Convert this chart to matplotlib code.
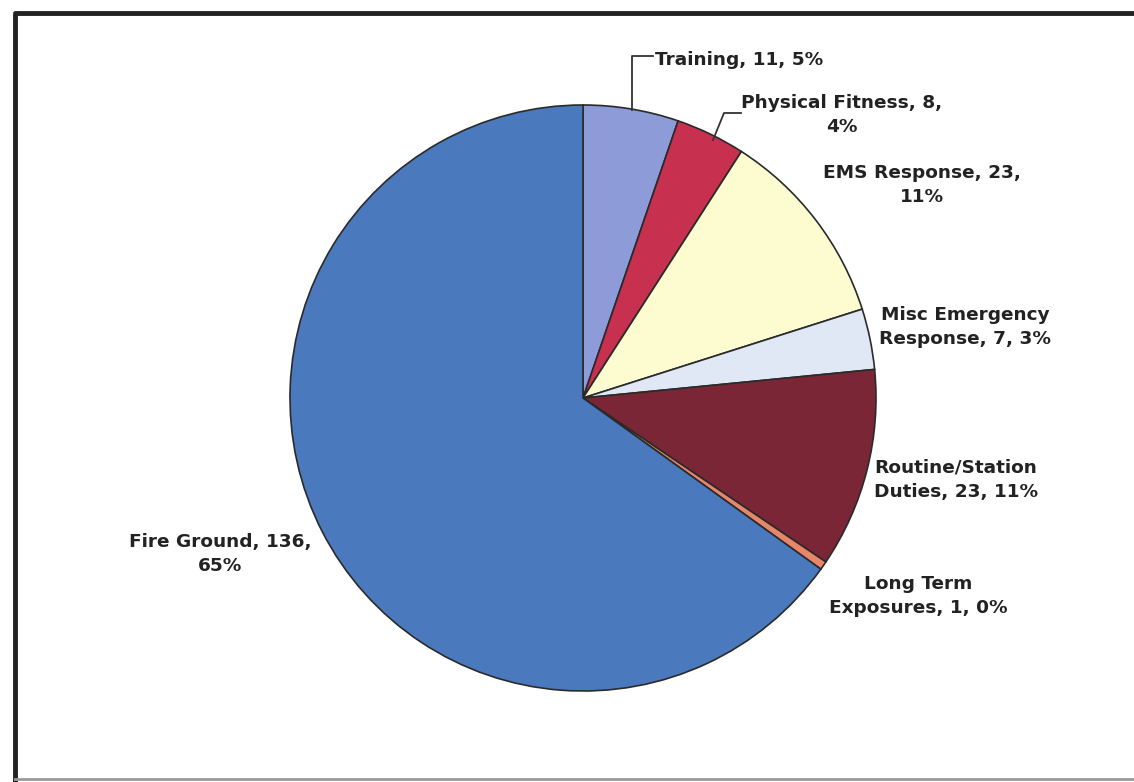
import matplotlib
matplotlib.use("Agg")
import matplotlib.pyplot as plt

plt.rcParams['font.family'] = ['DejaVu Sans']

categories = ["Training", "Physical Fitness", "EMS Response", "Misc Emergency Response",
              "Routine/Station Duties", "Long Term Exposures", "Fire Ground"]
counts = [11, 8, 23, 7, 23, 1, 136]
colors = ["#8d9bd8", "#c8304f", "#fdfcd0", "#dfe8f4", "#7b2636", "#e8866a", "#4a79bd"]

total = sum(counts)
pcts = [round(100 * c / total) for c in counts]

W, H = 1134, 782
fig = plt.figure(figsize=(W / 100, H / 100), dpi=100)
ax = fig.add_axes([0, 0, 1, 1])

cx, cy, r = 583, H - 398, 293
ax.pie(counts, colors=colors, startangle=90, counterclock=False,
       center=(cx, cy), radius=r,
       wedgeprops=dict(edgecolor="#2a2a2a", linewidth=1.2))
ax.set_xlim(0, W)
ax.set_ylim(0, H)
ax.set_aspect('equal')
ax.axis('off')

# chart frame
ax.plot([15, 15, W], [0, H - 13, H - 13], color="#222222", lw=3.5, solid_capstyle='projecting')
ax.plot([15, W], [3, 3], color="#999999", lw=2)

fs = 13.3
txt = dict(fontsize=fs, fontweight='bold', color="#222222", linespacing=1.45)
kw = dict(txt, ha='center', va='center')

# Training
ax.text(655, H - 60, f"{categories[0]}, {counts[0]}, {pcts[0]}%", ha='left', va='center', **txt)
ax.plot([632, 632, 653], [H - 110, H - 56, H - 56], color="#333333", lw=1.3)

# Physical Fitness
ax.text(842, H - 115, f"{categories[1]}, {counts[1]},\n{pcts[1]}%", **kw)
ax.plot([713, 724, 741], [H - 140, H - 113, H - 113], color="#333333", lw=1.3)

# EMS Response
ax.text(922, H - 185, f"{categories[2]}, {counts[2]},\n{pcts[2]}%", **kw)

# Misc Emergency Response
ax.text(965, H - 327, f"Misc Emergency\nResponse, {counts[3]}, {pcts[3]}%", **kw)

# Routine/Station Duties
ax.text(956, H - 480, f"Routine/Station\nDuties, {counts[4]}, {pcts[4]}%", **kw)

# Long Term Exposures
ax.text(918, H - 596, f"Long Term\nExposures, {counts[5]}, {pcts[5]}%", **kw)

# Fire Ground
ax.text(220, H - 554, f"{categories[6]}, {counts[6]},\n{pcts[6]}%", **kw)

fig.savefig("out.png", dpi=100, facecolor="white")
